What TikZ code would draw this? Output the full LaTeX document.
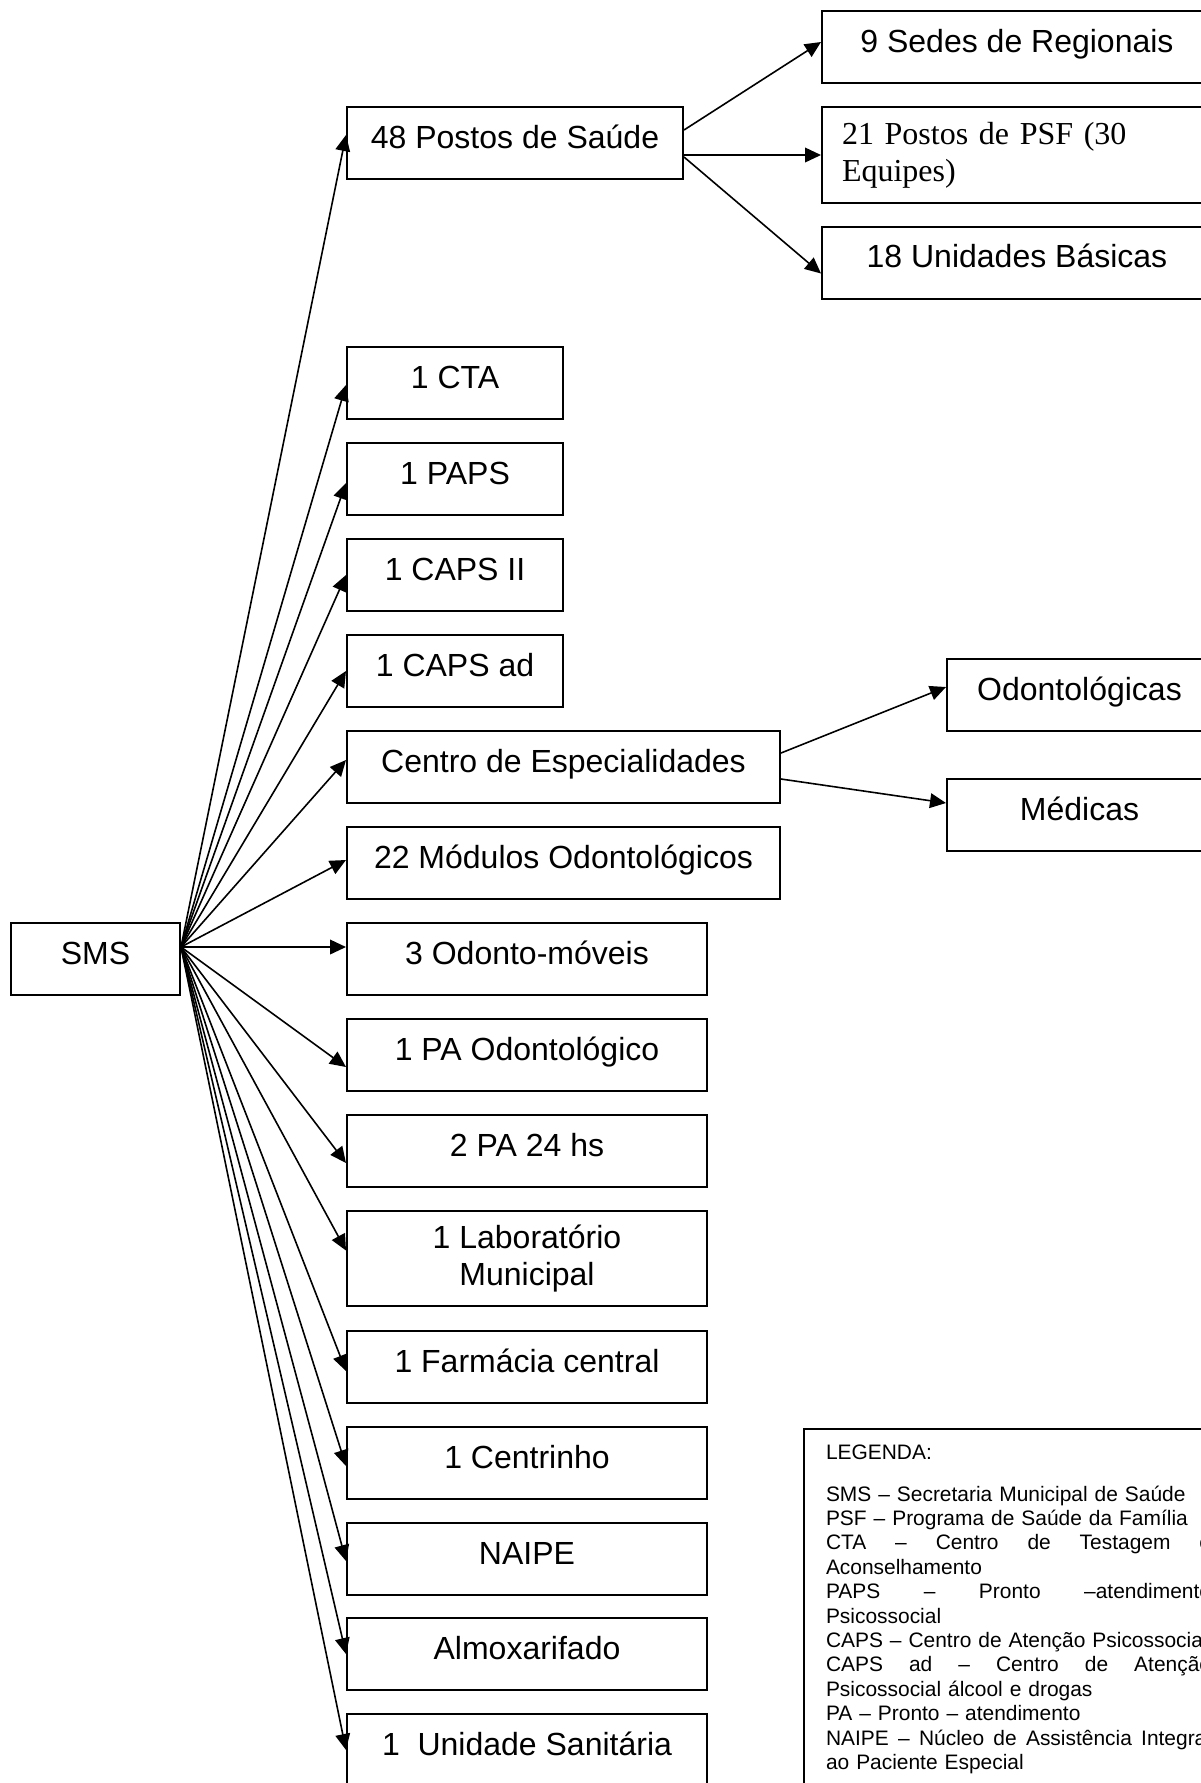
\documentclass[tikz,border=0pt]{standalone}
\usepackage{fontspec}
\setmainfont{Liberation Sans}
\newfontfamily\psffont{Liberation Serif}
\usetikzlibrary{calc,arrows.meta}
\def\pxu{0.375pt}
\newlength\legw
\setlength\legw{144.4pt}
\hyphenpenalty=10000
\newcommand\jline[1]{\makebox[\legw][s]{\spaceskip=0pt\xspaceskip=0pt\relax #1}}
\tikzset{
	box/.style={draw, line width=0.75pt, inner sep=0pt, font=\fontsize{12}{13.8}\selectfont, text height=9pt, text depth=5.25pt},
	twobox/.style={draw, line width=0.75pt, inner sep=0pt, font=\fontsize{12}{13.8}\selectfont, align=center},
	link/.style={line width=0.6pt, -{Triangle[length=6pt,width=5.5pt]}}
}

\begin{document}
\begin{tikzpicture}[x=0.375pt, y=-0.375pt]
			%%%%% START %%%%%
			\useasboundingbox (0, 0) rectangle (1201, 1783);
			
			\node[box, minimum width=169*\pxu, minimum height=72*\pxu] (sms) at (95.5, 959) {SMS};
			\coordinate (hub) at ($(sms.east)+(0,-12)$);
			
			\node[box, minimum width=336*\pxu, minimum height=72*\pxu] (postos) at (515, 143) {48 Postos de Saúde};
			\node[box, minimum width=390*\pxu, minimum height=72*\pxu] (sedes) at (1017, 47) {9 Sedes de Regionais};
			\node[draw, line width=0.75pt, inner xsep=20*\pxu, inner ysep=0pt, text width=350*\pxu, minimum height=96*\pxu, align=left, font=\psffont\fontsize{12}{13.8}\selectfont] (psf) at (1017, 155) {21 Postos de PSF (30\\Equipes)};
			\node[box, minimum width=390*\pxu, minimum height=72*\pxu] (ubs) at (1017, 262.5) {18 Unidades Básicas};
			
			\node[box, minimum width=216*\pxu, minimum height=72*\pxu] (cta) at (455, 383) {1 CTA};
			\node[box, minimum width=216*\pxu, minimum height=72*\pxu] (paps) at (455, 479) {1 PAPS};
			\node[box, minimum width=216*\pxu, minimum height=72*\pxu] (capsii) at (455, 575) {1 CAPS II};
			\node[box, minimum width=216*\pxu, minimum height=72*\pxu] (capsad) at (455, 671) {1 CAPS ad};
			
			\node[box, minimum width=433*\pxu, minimum height=72*\pxu] (ce) at (563.5, 767) {Centro de Especialidades};
			\node[box, minimum width=265*\pxu, minimum height=72*\pxu] (odontoesp) at (1079.5, 695) {Odontológicas};
			\node[box, minimum width=265*\pxu, minimum height=72*\pxu] (medicas) at (1079.5, 815) {Médicas};
			\node[box, minimum width=433*\pxu, minimum height=72*\pxu] (modulos) at (563.5, 863) {22 Módulos Odontológicos};
			
			\node[box, minimum width=360*\pxu, minimum height=72*\pxu] (moveis) at (527, 959) {3 Odonto-móveis};
			\node[box, minimum width=360*\pxu, minimum height=72*\pxu] (paodonto) at (527, 1055) {1 PA Odontológico};
			\node[box, minimum width=360*\pxu, minimum height=72*\pxu] (pa24) at (527, 1151) {2 PA 24 hs};
			\node[twobox, minimum width=360*\pxu, minimum height=95*\pxu] (lab) at (527, 1258.5) {1 Laboratório\\Municipal};
			\node[box, minimum width=360*\pxu, minimum height=72*\pxu] (farmacia) at (527, 1367) {1 Farmácia central};
			\node[box, minimum width=360*\pxu, minimum height=72*\pxu] (centrinho) at (527, 1463) {1 Centrinho};
			\node[box, minimum width=360*\pxu, minimum height=72*\pxu] (naipe) at (527, 1559) {NAIPE};
			\node[box, minimum width=360*\pxu, minimum height=72*\pxu] (almox) at (527, 1654) {Almoxarifado};
			\node[box, minimum width=360*\pxu, minimum height=72*\pxu] (sanitaria) at (527, 1750) {1~ Unidade Sanitária};
			
			\draw[link] (hub) -- ($(postos.west)+(0,-8)$);
			\draw[link] (hub) -- ($(cta.west)+(0,2)$);
			\draw[link] (hub) -- ($(paps.west)+(0,4)$);
			\draw[link] (hub) -- (capsii.west);
			\draw[link] (hub) -- (capsad.west);
			\draw[link] (hub) -- ($(ce.west)+(0,-7)$);
			\draw[link] (hub) -- ($(modulos.west)+(0,-3)$);
			\draw[link] (hub) -- (moveis.west |- hub);
			\draw[link] (hub) -- ($(paodonto.west)+(0,12)$);
			\draw[link] (hub) -- ($(pa24.west)+(0,12)$);
			\draw[link] (hub) -- ($(lab.west)+(0,-8)$);
			\draw[link] (hub) -- ($(farmacia.west)+(0,4)$);
			\draw[link] (hub) -- ($(centrinho.west)+(0,3)$);
			\draw[link] (hub) -- ($(naipe.west)+(0,2)$);
			\draw[link] (hub) -- (almox.west);
			\draw[link] (hub) -- (sanitaria.west);
			
			\draw[link] ($(postos.east)+(0,-13)$) -- ($(sedes.west)+(0,-5)$);
			\draw[link] ($(postos.east)+(0,12)$) -- (psf.west);
			\draw[link] ($(postos.east)+(0,14)$) -- ($(ubs.west)+(0,11)$);
			
			\draw[link] ($(ce.east)+(0,-14)$) -- ($(odontoesp.west)+(0,-8)$);
			\draw[link] ($(ce.east)+(0,12)$) -- ($(medicas.west)+(0,-12)$);
			
			% legenda
			\node[draw, line width=0.75pt, anchor=north west, inner xsep=22*\pxu, inner ysep=0pt, text width=170pt, align=left, font=\fontsize{7.85}{9.15}\selectfont] (legenda) at (803, 1428) {\rule{0pt}{11.25pt}LEGENDA:\\[6.6pt]
				SMS – Secretaria Municipal de Saúde\\
				PSF – Programa de Saúde da Família\\
				\jline{CTA – Centro de Testagem e}\\
				Aconselhamento\\
				\jline{PAPS – Pronto –atendimento}\\
				Psicossocial\\
				CAPS – Centro de Atenção Psicossocial\\
				\jline{CAPS ad – Centro de Atenção}\\
				Psicossocial álcool e drogas\\
				PA – Pronto – atendimento\\
				\jline{NAIPE – Núcleo de Assistência Integral}\\
				ao Paciente Especial\rule[-12pt]{0pt}{0pt}};
			
			%%%%% END %%%%%
\end{tikzpicture}
\end{document}
